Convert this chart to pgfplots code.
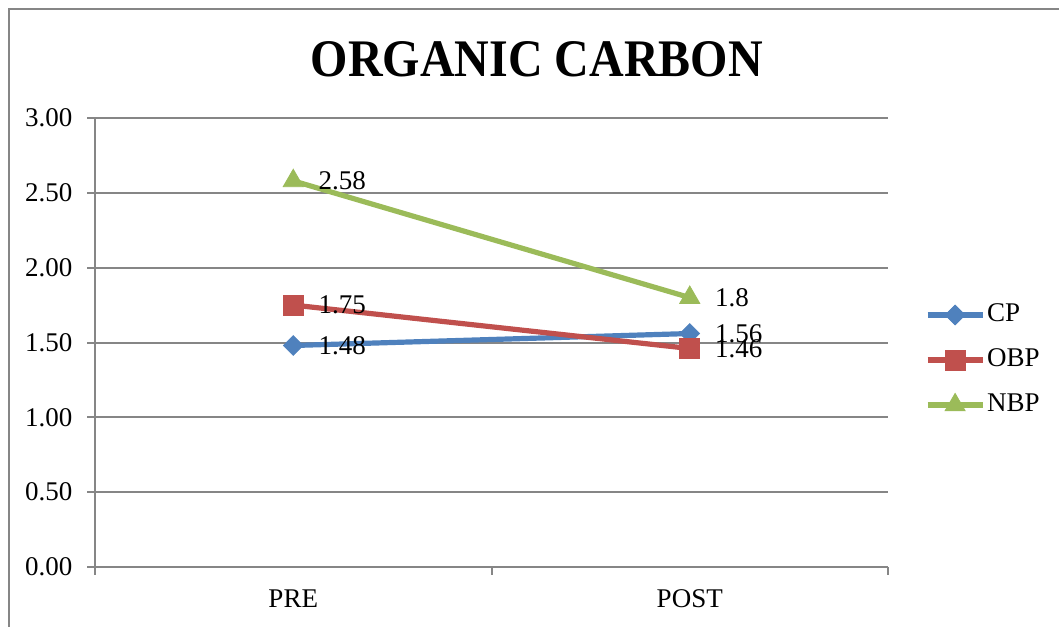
\documentclass[border=0pt]{standalone}
\usepackage{pgfplots}
\pgfplotsset{compat=1.18}
\usepackage{fontspec}
\setmainfont{Liberation Serif}
\definecolor{cpblue}{HTML}{4F81BD}
\definecolor{obpred}{HTML}{C0504D}
\definecolor{nbpgreen}{HTML}{9BBB59}
\definecolor{gridgray}{HTML}{868686}
\begin{document}
\begin{tikzpicture}
\useasboundingbox (0,0) rectangle (529.5pt,313pt);
\draw[gridgray, line width=1pt] (4.25pt,-1pt) -- (4.25pt,308.5pt) -- (531pt,308.5pt);
\node[anchor=base, inner sep=0pt] at (268.5pt,274.65pt) {\scalebox{1}[1.1]{\fontsize{24pt}{28pt}\selectfont\bfseries ORGANIC CARBON}};
\begin{axis}[
  at={(47.5pt,29.5pt)}, anchor=south west,
  scale only axis, width=396.5pt, height=224.5pt,
  xmin=-0.5, xmax=1.5, ymin=0, ymax=3,
  clip=false,
  axis lines=left,
  axis line style={gridgray, line width=1pt, -},
  ytick={0,0.5,1,1.5,2,2.5,3},
  ymajorgrids,
  grid style={gridgray, line width=1pt},
  tick align=outside,
  major tick length=3.75pt,
  tick style={gridgray, line width=1pt},
  xtick={-0.5,0.5,1.5},
  xticklabels={},
  extra x ticks={0,1},
  extra x tick labels={PRE,POST},
  extra x tick style={major tick length=0pt, grid=none},
  tick label style={font=\fontsize{13.5pt}{16pt}\selectfont, text=black},
  xticklabel style={yshift=-8pt},
  yticklabel style={xshift=-4pt, /pgf/number format/.cd, fixed, zerofill, precision=2, assume math mode=true},
  legend style={at={(1,0.4655)}, anchor=west, xshift=18.5pt, yshift=-1pt, draw=none, fill=none,
    inner sep=0pt, outer sep=0pt, row sep=10pt, column sep=1pt,
    font=\fontsize{13.5pt}{16pt}\selectfont,
    nodes={inner sep=0pt, text height=9.5pt, text depth=3pt}},
  legend cell align=left,
  legend image code/.code={\draw[mark repeat=2, mark phase=2] plot coordinates {(0pt,0pt) (13.75pt,0pt) (27.5pt,0pt)};},
  nodes near coords,
  point meta=explicit symbolic,
  every node near coord/.append style={anchor=west, xshift=12.5pt, inner sep=0pt, text=black, font=\fontsize{13.5pt}{16pt}\selectfont},
]
\addplot[cpblue, line width=2.6pt, mark=square*, mark options={solid, rotate=45, mark size=3.5pt, line width=0.4pt}]
  coordinates {(0,1.48) [1.48] (1,1.56) [1.56]};
\addlegendentry{CP}
\addplot[obpred, line width=2.6pt, mark=square*, mark options={solid, mark size=5pt, line width=0.4pt}]
  coordinates {(0,1.75) [1.75] (1,1.46) [1.46]};
\addlegendentry{OBP}
\addplot[nbpgreen, line width=2.6pt, mark=triangle*, mark options={solid, mark size=5.8pt, line width=0.4pt}]
  coordinates {(0,2.58) [2.58] (1,1.8) [1.8]};
\addlegendentry{NBP}
\end{axis}
\end{tikzpicture}
\end{document}
